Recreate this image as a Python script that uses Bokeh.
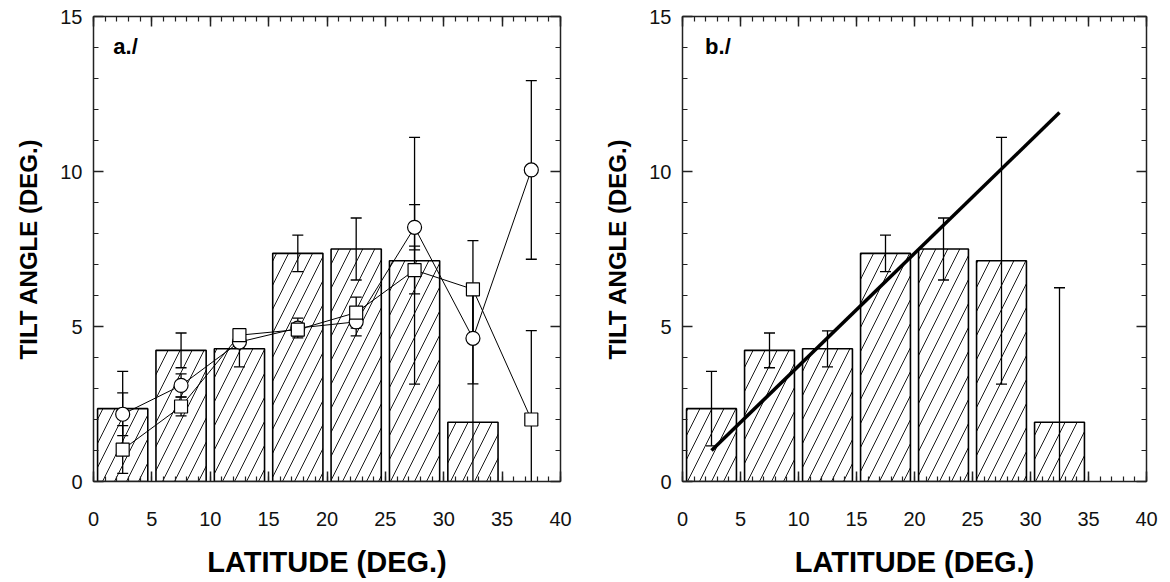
from bokeh.plotting import figure
from bokeh.models import (Range1d, LinearAxis, SingleIntervalTicker, Label,
                          ColumnDataSource, CustomJSTickFormatter)
from bokeh.layouts import row
from bokeh.embed import file_html
from bokeh.resources import INLINE

# ---- data ----
bar_lat = [2.5, 7.5, 12.5, 17.5, 22.5, 27.5, 32.5]
bar_tilt = [2.35, 4.23, 4.28, 7.36, 7.50, 7.12, 1.91]
bar_err = [1.20, 0.56, 0.58, 0.59, 1.00, 3.98, 4.34]

pt_lat = [2.5, 7.5, 12.5, 17.5, 22.5, 27.5, 32.5, 37.5]
circ_tilt = [2.17, 3.10, 4.50, 4.95, 5.15, 8.20, 4.62, 10.05]
circ_err = [0.69, 0.37, 0.20, 0.32, 0.45, 0.73, 1.47, 2.88]
sq_tilt = [1.03, 2.42, 4.72, 4.90, 5.45, 6.82, 6.20, 2.00]
sq_err = [0.77, 0.30, 0.15, 0.20, 0.50, 0.77, 1.57, 2.87]

fit_lat = [2.5, 32.5]
fit_tilt = [1.0, 11.9]

X_RANGE = (0, 40)
Y_RANGE = (0, 15)
X_LABEL = "LATITUDE (DEG.)"
Y_LABEL = "TILT ANGLE (DEG.)"
PANELS = ["a./", "b./"]

FONT = "Liberation Sans"
AX_COL = "#222222"


def style_axis(ax, interval, labels=True):
    ax.ticker = SingleIntervalTicker(interval=interval, num_minor_ticks=5)
    ax.major_tick_in = 10
    ax.major_tick_out = 0
    ax.minor_tick_in = 5
    ax.minor_tick_out = 0
    ax.axis_line_color = AX_COL
    ax.axis_line_width = 1.5
    ax.major_tick_line_color = AX_COL
    ax.major_tick_line_width = 1.5
    ax.minor_tick_line_color = AX_COL
    ax.minor_tick_line_width = 1.2
    ax.major_label_text_font = FONT
    ax.major_label_text_font_size = "20px"
    ax.major_label_text_color = "#111111"
    ax.axis_label_text_font = FONT
    ax.axis_label_text_font_style = "bold"
    ax.axis_label_text_color = "#000000"
    if not labels:
        ax.formatter = CustomJSTickFormatter(code="return ''")
        ax.major_label_standoff = 0
        ax.major_label_text_font_size = "0px"


def errorbars(p, x, y, e, cap):
    lo = [a - b for a, b in zip(y, e)]
    hi = [a + b for a, b in zip(y, e)]
    src = ColumnDataSource(dict(x=x, lo=lo, hi=hi))
    p.segment(x0="x", y0="lo", x1="x", y1="hi", source=src,
              line_color="black", line_width=1.3)
    p.scatter(x="x", y="lo", source=src, marker="dash", size=cap,
              line_color="black", line_width=1.3)
    p.scatter(x="x", y="hi", source=src, marker="dash", size=cap,
              line_color="black", line_width=1.3)


def make_fig(width, border_left, border_right, panel_text, lx):
    p = figure(width=width, height=580, output_backend="svg",
               toolbar_location=None, x_range=Range1d(*X_RANGE),
               y_range=Range1d(*Y_RANGE),
               min_border_left=border_left, min_border_right=border_right,
               min_border_top=16, min_border_bottom=98,
               x_axis_label=X_LABEL, y_axis_label=Y_LABEL)
    p.grid.visible = False
    p.outline_line_color = None
    p.background_fill_color = "white"
    p.border_fill_color = "white"

    style_axis(p.xaxis[0], 5)
    style_axis(p.yaxis[0], 5)
    p.xaxis[0].major_label_standoff = 30
    p.xaxis[0].axis_label_standoff = 17
    p.xaxis[0].axis_label_text_font_size = "29px"
    p.yaxis[0].major_label_standoff = 11
    p.yaxis[0].axis_label_standoff = 15
    p.yaxis[0].axis_label_text_font_size = "24px"

    top = LinearAxis()
    style_axis(top, 5, labels=False)
    p.add_layout(top, "above")
    right = LinearAxis()
    style_axis(right, 5, labels=False)
    p.add_layout(right, "right")

    p.vbar(x=bar_lat, top=bar_tilt, bottom=0, width=4.3,
           fill_color="white", line_color="black", line_width=1.6,
           hatch_pattern="/", hatch_color="black", hatch_weight=0.9,
           hatch_scale=24)
    errorbars(p, bar_lat, bar_tilt, bar_err, 11)

    p.add_layout(Label(x=lx, y=13.62, text=panel_text,
                       text_font=FONT, text_font_style="bold",
                       text_font_size="22px", text_color="black"))
    return p


p1 = make_fig(597, 93, 37, PANELS[0], 1.7)
p1.line(pt_lat, circ_tilt, line_color="black", line_width=1)
p1.line(pt_lat, sq_tilt, line_color="black", line_width=1)
errorbars(p1, pt_lat, circ_tilt, circ_err, 11)
errorbars(p1, pt_lat, sq_tilt, sq_err, 11)
p1.scatter(pt_lat, circ_tilt, marker="circle", size=14,
           fill_color="white", line_color="black", line_width=1.2)
p1.scatter(pt_lat, sq_tilt, marker="square", size=13,
           fill_color="white", line_color="black", line_width=1.2)

p2 = make_fig(571, 85, 22, PANELS[1], 1.95)
p2.line(fit_lat, fit_tilt, line_color="black", line_width=3.5)

layout = row(p1, p2)
open("out.html", "w").write(file_html(layout, INLINE))
